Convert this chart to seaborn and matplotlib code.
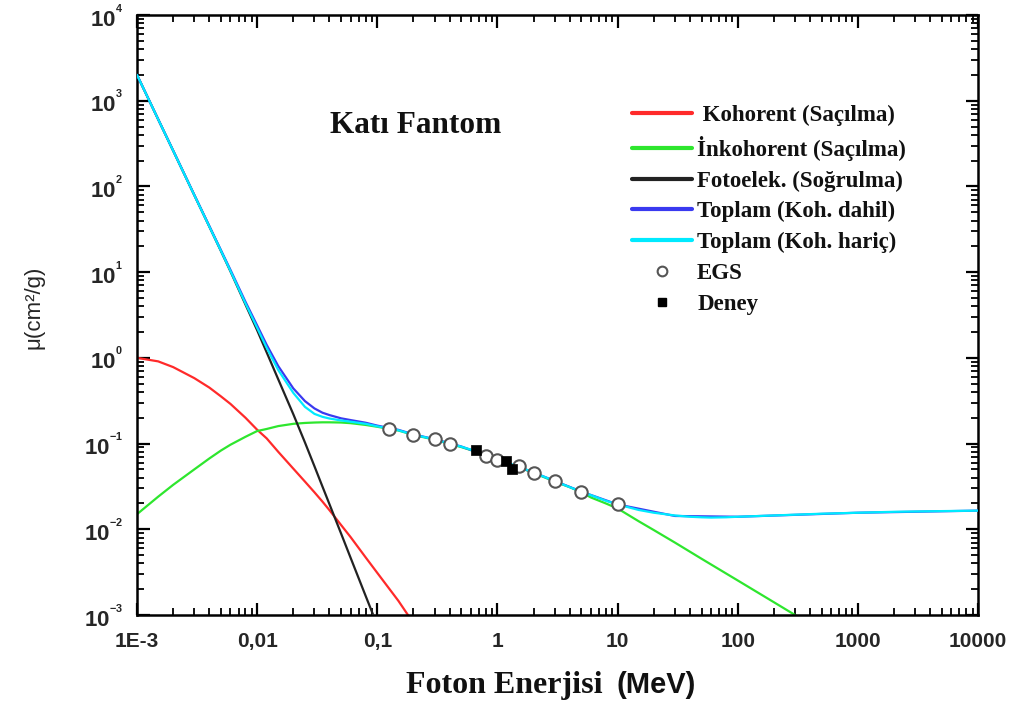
import numpy as np
import pandas as pd
import matplotlib
matplotlib.use("Agg")
import matplotlib.pyplot as plt
import seaborn as sns
from matplotlib.lines import Line2D
from matplotlib.ticker import LogLocator, NullFormatter, FixedLocator, FixedFormatter

# ---------------------------------------------------------------------------
# Mass attenuation coefficients of the solid phantom (cm^2/g) vs. photon energy (MeV)
# ---------------------------------------------------------------------------
coh_energy = [0.001, 0.0015, 0.002, 0.003, 0.004, 0.005, 0.006, 0.008, 0.01, 0.012, 0.015,
              0.02, 0.025, 0.03, 0.035, 0.04, 0.05, 0.06, 0.08, 0.1, 0.15, 0.18, 0.2]
coh_mu = [1.0, 0.91, 0.78, 0.58, 0.45, 0.355, 0.29, 0.20, 0.145, 0.115, 0.080,
          0.051, 0.036, 0.027, 0.021, 0.0167, 0.0112, 0.0081, 0.0047, 0.0031, 0.00146, 0.0010, 0.00082]

incoh_energy = [0.001, 0.0015, 0.002, 0.003, 0.004, 0.005, 0.006, 0.008, 0.01, 0.012, 0.015,
                0.02, 0.025, 0.03, 0.035, 0.04, 0.05, 0.06, 0.08, 0.1, 0.15, 0.2, 0.3, 0.4, 0.5,
                0.6, 0.8, 1.0, 1.5, 2.0, 3.0, 4.0, 5.0, 6.0, 8.0, 10.0, 15.0, 20.0,
                30.0, 50.0, 100.0, 200.0, 300.0, 400.0]
incoh_mu = [0.015, 0.024, 0.033, 0.050, 0.067, 0.083, 0.097, 0.120, 0.140, 0.148, 0.160,
            0.170, 0.174, 0.176, 0.177, 0.177, 0.176, 0.173, 0.165, 0.157, 0.142, 0.126, 0.111, 0.099, 0.091,
            0.084, 0.073, 0.064, 0.053, 0.0455, 0.036, 0.031, 0.027, 0.0235, 0.020, 0.0175, 0.0124, 0.0098,
            0.0070, 0.00453, 0.00253, 0.00141, 0.0010, 0.00078]

photo_energy = [0.001, 0.0015, 0.002, 0.003, 0.004, 0.005, 0.006, 0.008, 0.01, 0.012, 0.015,
                0.02, 0.025, 0.03, 0.035, 0.04, 0.05, 0.06, 0.08, 0.0925, 0.1]
photo_mu = [2000.0, 607.0, 261.0, 79.0, 34.0, 17.6, 10.2, 4.18, 2.1, 1.16, 0.56,
            0.22, 0.103, 0.0543, 0.0314, 0.0196, 0.0089, 0.00464, 0.00167, 0.0010, 0.00077]

# Total attenuation, coherent scattering included
tot_coh_energy = [0.001, 0.0015, 0.002, 0.003, 0.004, 0.005, 0.006, 0.008, 0.01, 0.012, 0.015,
                  0.02, 0.025, 0.03, 0.035, 0.04, 0.05, 0.06, 0.08, 0.1, 0.15, 0.2, 0.3, 0.5, 1.0,
                  2.0, 5.0, 10.0, 30.0, 100.0, 1000.0, 10000.0]
tot_coh_mu = [2001.0, 608.0, 262.0, 79.6, 34.5, 18.0, 10.6, 4.5, 2.39, 1.42, 0.80,
              0.44, 0.313, 0.257, 0.229, 0.215, 0.197, 0.188, 0.175, 0.162, 0.1445, 0.128, 0.1125, 0.0925, 0.065,
              0.046, 0.0275, 0.0195, 0.0143, 0.0140, 0.0156, 0.0165]

# Total attenuation, coherent scattering excluded
tot_energy = [0.001, 0.0015, 0.002, 0.003, 0.004, 0.005, 0.006, 0.008, 0.01, 0.012, 0.015,
              0.02, 0.025, 0.03, 0.035, 0.04, 0.05, 0.06, 0.08, 0.1, 0.15, 0.2, 0.3, 0.4, 0.5,
              0.6, 0.8, 1.0, 1.5, 2.0, 3.0, 4.0, 5.0, 6.0, 8.0, 10.0, 15.0, 20.0,
              30.0, 40.0, 50.0, 60.0, 80.0, 100.0, 200.0, 500.0, 1000.0, 2000.0, 5000.0, 10000.0]
tot_mu = [2000.0, 607.0, 261.0, 79.0, 34.0, 17.7, 10.3, 4.3, 2.24, 1.31, 0.72,
          0.39, 0.268, 0.222, 0.205, 0.196, 0.186, 0.180, 0.170, 0.159, 0.143, 0.127, 0.112, 0.100, 0.092,
          0.085, 0.074, 0.065, 0.054, 0.046, 0.0365, 0.031, 0.0275, 0.025, 0.0215, 0.0195, 0.0168, 0.0156,
          0.0145, 0.0140, 0.0138, 0.0137, 0.0138, 0.0140, 0.0145, 0.0152, 0.0156, 0.0160, 0.0163, 0.0165]

# EGS Monte Carlo results
egs_energy = [0.125, 0.2, 0.3, 0.4, 0.8, 1.0, 1.5, 2.0, 3.0, 5.0, 10.0]
egs_mu = [0.147, 0.126, 0.112, 0.100, 0.072, 0.064, 0.055, 0.0456, 0.0365, 0.0274, 0.0197]

# Measurements
exp_energy = [0.662, 1.173, 1.332]
exp_mu = [0.085, 0.062, 0.050]

series_labels = [" Kohorent (Saçılma)", "İnkohorent (Saçılma)", "Fotoelek. (Soğrulma)",
                 "Toplam (Koh. dahil)", "Toplam (Koh. hariç)", "EGS", "Deney"]
x_tick_values = [1e-3, 1e-2, 1e-1, 1, 10, 100, 1000, 10000]
x_tick_labels = ["1E-3", "0,01", "0,1", "1", "10", "100", "1000", "10000"]
y_tick_exponents = [-3, -2, -1, 0, 1, 2, 3, 4]

# ---------------------------------------------------------------------------
sns.set_style("ticks")
plt.rcParams["font.family"] = ["Liberation Sans", "DejaVu Sans"]
plt.rcParams["mathtext.fontset"] = "custom"
plt.rcParams["mathtext.rm"] = "Liberation Sans:bold"
plt.rcParams["mathtext.it"] = "Liberation Sans:bold"
plt.rcParams["mathtext.bf"] = "Liberation Sans:bold"

W, H = 1025, 709
fig = plt.figure(figsize=(W / 100, H / 100), dpi=100)
ax_l, ax_r, ax_t, ax_b = 137, 978, 15, 615
ax = fig.add_axes([ax_l / W, 1 - ax_b / H, (ax_r - ax_l) / W, (ax_b - ax_t) / H])

c_red = "#ff2a2a"
c_green = "#2ee62e"
c_black = "#222222"
c_blue = "#3a3af0"
c_cyan = "#00eaff"
lw = 1.6

def draw(xv, yv, color, z):
    df = pd.DataFrame({"E": xv, "mu": yv})
    sns.lineplot(data=df, x="E", y="mu", ax=ax, color=color, lw=lw,
                 estimator=None, sort=False, legend=False, zorder=z)

draw(coh_energy, coh_mu, c_red, 2)
draw(incoh_energy, incoh_mu, c_green, 2)
draw(photo_energy, photo_mu, c_black, 3)
draw(tot_coh_energy, tot_coh_mu, c_blue, 3)
draw(tot_energy, tot_mu, c_cyan, 4)

sns.scatterplot(x=egs_energy, y=egs_mu, ax=ax, marker="o", s=80, facecolor="white",
                edgecolor="#555555", linewidth=1.5, zorder=5, legend=False)
sns.scatterplot(x=exp_energy, y=exp_mu, ax=ax, marker="s", s=55, color="black",
                edgecolor="black", linewidth=0.5, zorder=6, legend=False)

ax.set_xscale("log")
ax.set_yscale("log")
ax.set_xlim(1e-3, 1e4)
ax.set_ylim(1e-3, 1e4)

# ticks inward on all four sides
for axis in (ax.xaxis, ax.yaxis):
    axis.set_minor_locator(LogLocator(base=10, subs=np.arange(2, 10), numticks=100))
    axis.set_minor_formatter(NullFormatter())
ax.xaxis.set_major_locator(FixedLocator(x_tick_values))
ax.xaxis.set_major_formatter(FixedFormatter(x_tick_labels))
ax.yaxis.set_major_locator(FixedLocator([10.0 ** e for e in y_tick_exponents]))
ax.yaxis.set_major_formatter(FixedFormatter([r"$10^{{}^{%d}}$" % e for e in y_tick_exponents]))
ax.tick_params(which="both", direction="in", top=True, right=True, color="black")
ax.tick_params(which="major", length=9, width=1.6)
ax.tick_params(which="minor", length=5, width=1.3)
ax.tick_params(axis="x", which="major", pad=12, labelsize=15)
ax.tick_params(axis="y", which="major", pad=10, labelsize=16)
for lab in ax.get_xticklabels():
    lab.set_fontweight("bold")
for sp in ax.spines.values():
    sp.set_linewidth(1.8)
    sp.set_color("black")
ax.grid(False)

ax.set_xlabel("")
ax.set_ylabel("μ(cm²/g)", fontsize=16, family="Liberation Sans")
ax.yaxis.set_label_coords((45 - ax_l) / (ax_r - ax_l), 0.512)

# axis title in two typefaces
fig.text(603 / W, 1 - 693 / H, "Foton Enerjisi", ha="right", va="baseline",
         family="Liberation Serif", weight="bold", fontsize=23, color="#111111")
fig.text(616 / W, 1 - 693 / H, "(MeV)", ha="left", va="baseline",
         family="Liberation Sans", weight="bold", fontsize=21, color="#111111")

ax.text((330 - ax_l) / (ax_r - ax_l), (ax_b - 133) / (ax_b - ax_t), "Katı Fantom",
        transform=ax.transAxes, ha="left", va="baseline",
        family="Liberation Serif", weight="bold", fontsize=22.5, color="#111111")

handles = [
    Line2D([], [], color=c_red, lw=3),
    Line2D([], [], color=c_green, lw=3),
    Line2D([], [], color=c_black, lw=3),
    Line2D([], [], color=c_blue, lw=3),
    Line2D([], [], color=c_cyan, lw=3),
    Line2D([], [], ls="none", marker="o", ms=7, mfc="white", mec="#555555", mew=1.5),
    Line2D([], [], ls="none", marker="s", ms=6, mfc="black", mec="black"),
]
leg = ax.legend(handles, series_labels, loc="upper left",
                bbox_to_anchor=((632 - ax_l) / (ax_r - ax_l), (ax_b - 105) / (ax_b - ax_t)),
                frameon=False, borderpad=0, borderaxespad=0, handlelength=2.62,
                handletextpad=0.22, labelspacing=0.42,
                prop={"family": "Liberation Serif", "weight": "bold", "size": 16.5})
for t in leg.get_texts():
    t.set_color("#111111")

fig.savefig("out.png", dpi=100)
